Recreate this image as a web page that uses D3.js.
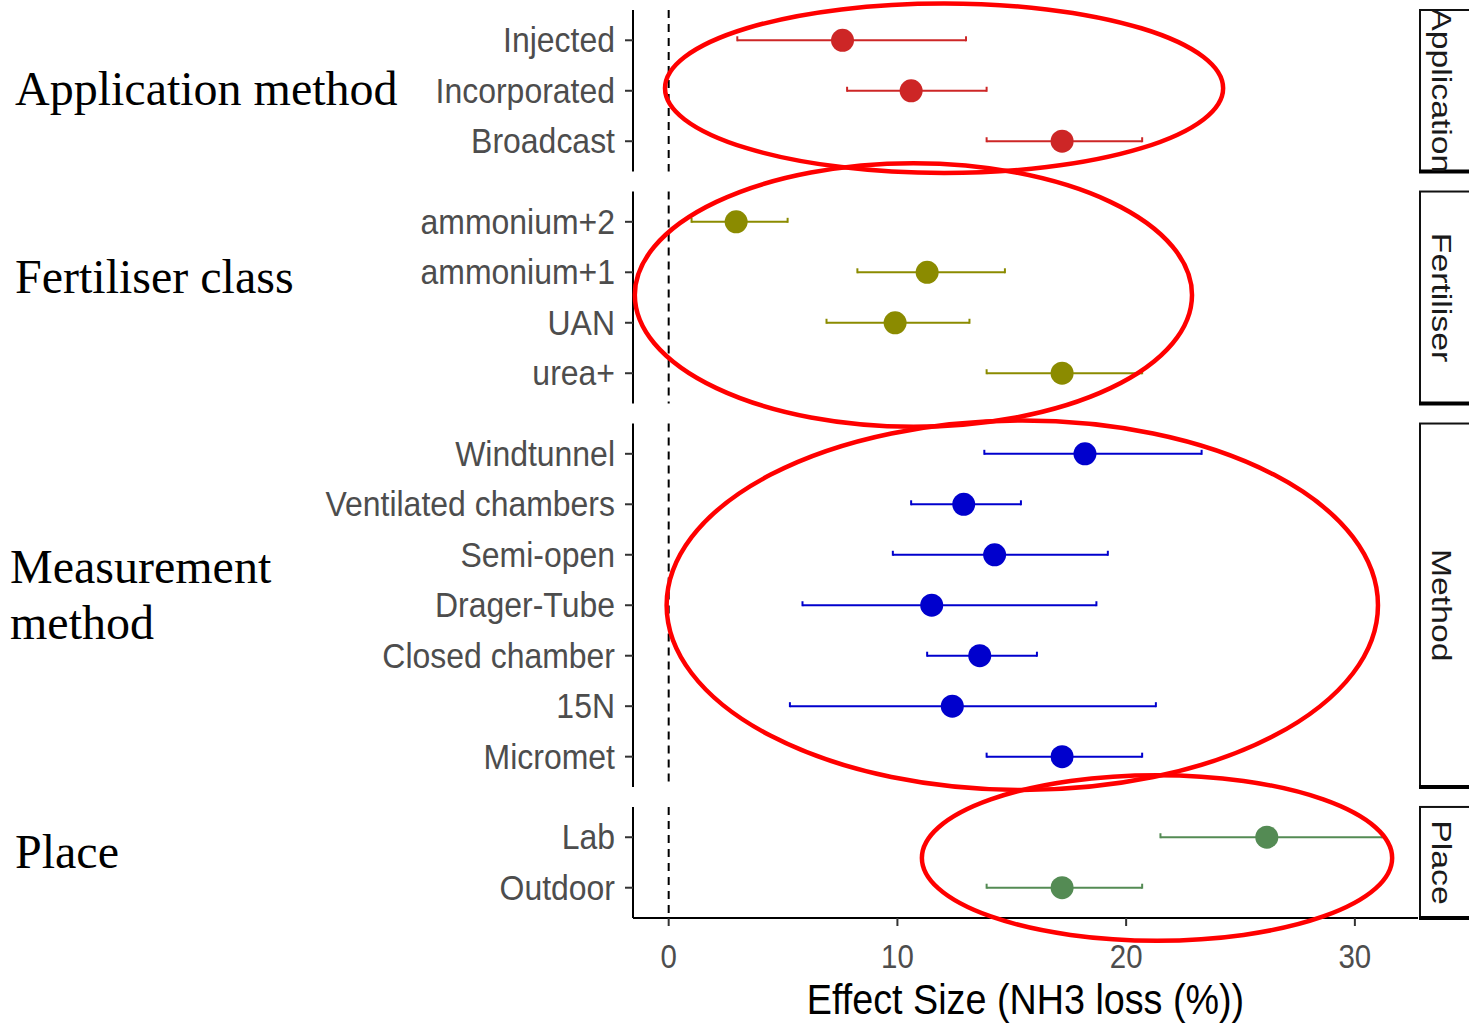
<!DOCTYPE html>
<html lang="en">
<head>
<meta charset="utf-8">
<title>NH3 loss effect sizes</title>
<script src="https://cdn.jsdelivr.net/npm/d3@7"></script>
<style>
  body { margin: 0; background: #fff; }
  svg { display: block; }
</style>
</head>
<body>
<script>
// facets, top to bottom
var facets = ["Application", "Fertiliser", "Method", "Place"];
var facetTitles = [["Application method"], ["Fertiliser class"], ["Measurement", "method"], ["Place"]];
var facetColors = ["#CD2626", "#8B8B00", "#0000CD", "#548B54"];

// one row per term
var terms = ["Injected", "Incorporated", "Broadcast",
             "ammonium+2", "ammonium+1", "UAN", "urea+",
             "Windtunnel", "Ventilated chambers", "Semi-open", "Drager-Tube", "Closed chamber", "15N", "Micromet",
             "Lab", "Outdoor"];
var termFacet = [0, 0, 0, 1, 1, 1, 1, 2, 2, 2, 2, 2, 2, 2, 3, 3];
var estimate = [7.6, 10.6, 17.2, 2.95, 11.3, 9.9, 17.2, 18.2, 12.9, 14.25, 11.5, 13.6, 12.4, 17.2, 26.15, 17.2];
var lower    = [3.0, 7.8, 13.9, 1.0, 8.25, 6.9, 13.9, 13.8, 10.6, 9.8, 5.85, 11.3, 5.3, 13.9, 21.5, 13.9];
var upper    = [13.0, 13.9, 20.7, 5.2, 14.7, 13.15, 20.7, 23.3, 15.4, 19.2, 18.7, 16.1, 21.3, 20.7, 31.2, 20.7];
var xTicks = [0, 10, 20, 30];

// hand-drawn highlight rings: centre / radius in effect units, vertical in row steps from facet middle
var ringCx = [12.04, 10.7, 15.46, 21.35];
var ringRx = [12.2, 12.18, 15.55, 10.28];
var ringDy = [-0.05, -0.05, 0, -0.09];
var ringRy = [1.68, 2.61, 3.66, 1.64];

var W = 1469, H = 1024;
var plotL = 633, plotR = 1418, plotT = 10, plotB = 918, gap = 20;
var titleBase = [105, 293, 583, 868];

var svg = d3.select("body").append("svg")
    .attr("width", W)
    .attr("height", H);

var rows = terms.map(function(t, i) {
  return {term: t, facet: termFacet[i], est: estimate[i], lo: lower[i], hi: upper[i]};
});

// x scale with ggplot-like 5% expansion (vline at 0 included)
var xmin = Math.min(0, d3.min(lower)), xmax = Math.max(0, d3.max(upper));
var pad = (xmax - xmin) * 0.05;
var x = d3.scaleLinear().domain([xmin - pad, xmax + pad]).range([plotL, plotR]);

// facet heights proportional to number of rows (+0.6 expansion each side)
var counts = facets.map(function(f, i) { return rows.filter(function(r) { return r.facet === i; }).length; });
var units = d3.sum(counts, function(c) { return c + 0.2; });
var step = (plotB - plotT - gap * (facets.length - 1)) / units;
var panels = [];
var cur = plotT;
facets.forEach(function(f, i) {
  var h = (counts[i] + 0.2) * step;
  var dom = rows.filter(function(r) { return r.facet === i; }).map(function(r) { return r.term; });
  panels.push({
    name: f, top: cur, height: h,
    y: d3.scalePoint().domain(dom).range([cur, cur + h]).padding(0.6)
  });
  cur += h + gap;
});

var defs = svg.append("defs");

panels.forEach(function(p, i) {
  var g = svg.append("g");
  var prow = rows.filter(function(r) { return r.facet === i; });

  // dashed zero line
  g.append("line")
      .attr("x1", x(0)).attr("x2", x(0))
      .attr("y1", p.top).attr("y2", p.top + p.height)
      .attr("stroke", "#000").attr("stroke-width", 2)
      .attr("stroke-dasharray", "8,6");

  // y axis line + ticks
  g.append("line")
      .attr("x1", plotL).attr("x2", plotL)
      .attr("y1", p.top).attr("y2", p.top + p.height)
      .attr("stroke", "#000").attr("stroke-width", 2);

  g.selectAll("line.ytick").data(prow).enter().append("line")
      .attr("class", "ytick")
      .attr("x1", plotL - 8).attr("x2", plotL)
      .attr("y1", function(d) { return p.y(d.term); })
      .attr("y2", function(d) { return p.y(d.term); })
      .attr("stroke", "#333").attr("stroke-width", 2);

  g.selectAll("text.ylab").data(prow).enter().append("text")
      .attr("class", "ylab")
      .attr("transform", function(d) { return "translate(" + (plotL - 18) + "," + (p.y(d.term) + 12) + ") scale(0.94,1.05)"; })
      .attr("text-anchor", "end")
      .attr("font-family", "Liberation Sans, Arial, sans-serif")
      .attr("font-size", 34)
      .attr("fill", "#4D4D4D")
      .text(function(d) { return d.term; });

  // error bars
  var col = facetColors[i];
  g.selectAll("line.bar").data(prow).enter().append("line")
      .attr("class", "bar")
      .attr("x1", function(d) { return x(d.lo); })
      .attr("x2", function(d) { return x(d.hi); })
      .attr("y1", function(d) { return p.y(d.term); })
      .attr("y2", function(d) { return p.y(d.term); })
      .attr("stroke", col).attr("stroke-width", 2);

  ["lo", "hi"].forEach(function(k) {
    g.selectAll("line.cap" + k).data(prow).enter().append("line")
        .attr("class", "cap" + k)
        .attr("x1", function(d) { return x(d[k]); })
        .attr("x2", function(d) { return x(d[k]); })
        .attr("y1", function(d) { return p.y(d.term) - 4; })
        .attr("y2", function(d) { return p.y(d.term) + 1; })
        .attr("stroke", col).attr("stroke-width", 2);
  });

  g.selectAll("circle").data(prow).enter().append("circle")
      .attr("cx", function(d) { return x(d.est); })
      .attr("cy", function(d) { return p.y(d.term); })
      .attr("r", 11.5)
      .attr("fill", col);

  // strip on the right
  defs.append("clipPath").attr("id", "strip" + i)
    .append("rect")
      .attr("x", 1420).attr("y", p.top)
      .attr("width", 80).attr("height", p.height);

  g.append("rect")
      .attr("x", 1420).attr("y", p.top)
      .attr("width", 80).attr("height", p.height)
      .attr("fill", "#fff")
      .attr("stroke", "#111").attr("stroke-width", 2);
  g.append("line")
      .attr("x1", 1419).attr("x2", 1500)
      .attr("y1", p.top + p.height).attr("y2", p.top + p.height)
      .attr("stroke", "#000").attr("stroke-width", 4);

  g.append("g").attr("clip-path", "url(#strip" + i + ")")
    .append("text")
      .attr("transform", "translate(1432," + (p.top + p.height / 2) + ") rotate(90) scale(1.25,1)")
      .attr("text-anchor", "middle")
      .attr("font-family", "Liberation Sans, Arial, sans-serif")
      .attr("font-size", 27)
      .attr("fill", "#1A1A1A")
      .text(p.name);

  // left-hand facet titles
  var t = svg.append("text")
      .attr("font-family", "Liberation Serif, Times New Roman, serif")
      .attr("font-size", 48)
      .attr("fill", "#000");
  var lines = facetTitles[i];
  var x0 = lines.length > 1 ? 10 : 15;
  lines.forEach(function(s, j) {
    t.append("tspan").attr("x", x0).attr("y", titleBase[i] + j * 56).text(s);
  });
});

// x axis on the bottom panel
var last = panels[panels.length - 1];
var xb = last.top + last.height;
svg.append("line")
    .attr("x1", plotL).attr("x2", plotR)
    .attr("y1", xb).attr("y2", xb)
    .attr("stroke", "#000").attr("stroke-width", 2);
svg.selectAll("line.xtick").data(xTicks).enter().append("line")
    .attr("x1", function(d) { return x(d); })
    .attr("x2", function(d) { return x(d); })
    .attr("y1", xb).attr("y2", xb + 8)
    .attr("stroke", "#333").attr("stroke-width", 2);
svg.selectAll("text.xlab").data(xTicks).enter().append("text")
    .attr("transform", function(d) { return "translate(" + x(d) + "," + (xb + 50) + ") scale(0.92,1.05)"; })
    .attr("text-anchor", "middle")
    .attr("font-family", "Liberation Sans, Arial, sans-serif")
    .attr("font-size", 32)
    .attr("fill", "#4D4D4D")
    .text(function(d) { return d; });
svg.append("text")
    .attr("transform", "translate(" + ((plotL + plotR) / 2) + ",1014) scale(0.92,1.05)")
    .attr("text-anchor", "middle")
    .attr("font-family", "Liberation Sans, Arial, sans-serif")
    .attr("font-size", 41)
    .attr("fill", "#000")
    .text("Effect Size (NH3 loss (%))");

// red highlight rings over the panels
panels.forEach(function(p, i) {
  var cy = p.top + p.height / 2 + ringDy[i] * step;
  svg.append("ellipse")
      .attr("cx", x(ringCx[i]))
      .attr("cy", cy)
      .attr("rx", x(ringCx[i] + ringRx[i]) - x(ringCx[i]))
      .attr("ry", ringRy[i] * step)
      .attr("fill", "none")
      .attr("stroke", "#FF0000")
      .attr("stroke-width", 4.5);
});
</script>
</body>
</html>
